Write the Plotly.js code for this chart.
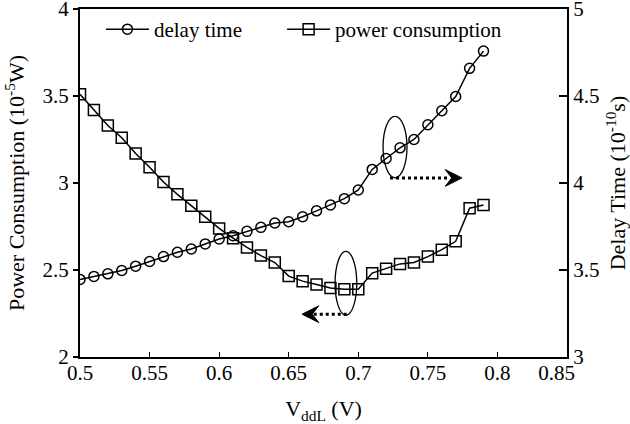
<!DOCTYPE html>
<html>
<head>
<meta charset="utf-8">
<script src="https://cdn.plot.ly/plotly-3.0.1.min.js"></script>
<style>html,body{margin:0;padding:0;background:#fff;}#chart{width:630px;height:424px;}</style>
</head>
<body>
<div id="chart"></div>
<script>
// VddL values (V)
const vddl = [0.50,0.51,0.52,0.53,0.54,0.55,0.56,0.57,0.58,0.59,
              0.60,0.61,0.62,0.63,0.64,0.65,0.66,0.67,0.68,0.69,
              0.70,0.71,0.72,0.73,0.74,0.75,0.76,0.77,0.78,0.79];
// Delay time (1e-10 s), right axis
const delayTime = [3.446,3.463,3.478,3.497,3.522,3.549,3.577,3.602,3.621,3.650,
                   3.678,3.697,3.722,3.745,3.770,3.777,3.806,3.840,3.874,3.910,
                   3.960,4.078,4.141,4.202,4.250,4.335,4.415,4.497,4.659,4.758];
// Power consumption (1e-5 W), left axis
const powerCons = [3.510,3.420,3.330,3.260,3.170,3.090,3.006,2.935,2.869,2.806,
                   2.739,2.683,2.630,2.583,2.543,2.465,2.436,2.417,2.396,2.390,
                   2.390,2.482,2.507,2.535,2.543,2.577,2.617,2.665,2.855,2.874];
const xTicks = [0.5,0.55,0.6,0.65,0.7,0.75,0.8,0.85];
const xTickText = ['0.5','0.55','0.6','0.65','0.7','0.75','0.8','0.85\u00a0\u00a0\u00a0\u00a0'];
const yTicks = [2,2.5,3,3.5,4];
const yTickText = ['2','2.5','3','3.5','4'];
const y2Ticks = [3,3.5,4,4.5,5];
const y2TickText = ['3','3.5','4','4.5','5'];

const FONT = 'Liberation Serif, Times New Roman, serif';

const traces = [
  {x: vddl, y: delayTime, yaxis: 'y2', name: 'delay time', type: 'scatter', mode: 'lines+markers',
   legend: 'legend',
   line: {color: '#000', width: 1.5},
   marker: {symbol: 'circle-open', size: 10, color: '#000', line: {width: 1.5, color: '#000'}}},
  {x: vddl, y: powerCons, yaxis: 'y', name: 'power consumption', type: 'scatter', mode: 'lines+markers',
   legend: 'legend2',
   line: {color: '#000', width: 1.5},
   marker: {symbol: 'square-open', size: 11, color: '#000', line: {width: 1.5, color: '#000'}}}
];

const shapes = [
  // ellipse around delay-time points
  {type: 'circle', xref: 'x', yref: 'y', x0: 0.7178, x1: 0.7350, y0: 3.030, y1: 3.383,
   line: {color: '#000', width: 1.3}},
  {type: 'line', xref: 'x', yref: 'y', x0: 0.7228, x1: 0.7660, y0: 3.029, y1: 3.029,
   line: {color: '#000', width: 3, dash: 'dot'}},
  {type: 'path', xref: 'x', yref: 'y', path: 'M 0.7745 3.029 L 0.7625 3.077 L 0.7672 3.029 L 0.7625 2.981 Z',
   fillcolor: '#000', line: {color: '#000', width: 1}},
  // ellipse around power points
  {type: 'circle', xref: 'x', yref: 'y', x0: 0.6833, x1: 0.6989, y0: 2.240, y1: 2.607,
   line: {color: '#000', width: 1.3}},
  {type: 'line', xref: 'x', yref: 'y', x0: 0.6917, x1: 0.6670, y0: 2.246, y1: 2.246,
   line: {color: '#000', width: 3, dash: 'dot'}},
  {type: 'path', xref: 'x', yref: 'y', path: 'M 0.6596 2.246 L 0.6716 2.294 L 0.6669 2.246 L 0.6716 2.198 Z',
   fillcolor: '#000', line: {color: '#000', width: 1}}
];

const legendCommon = {orientation: 'h', y: 1.0, xanchor: 'left', yanchor: 'top',
                      bgcolor: 'rgba(0,0,0,0)', font: {family: FONT, size: 21, color: '#000'},
                      itemwidth: 43};

const layout = {
  width: 630, height: 424,
  margin: {l: 80, r: 63, t: 9, b: 67},
  paper_bgcolor: '#fff', plot_bgcolor: '#fff',
  font: {family: FONT, size: 21, color: '#000'},
  showlegend: true,
  legend: Object.assign({}, legendCommon, {x: 0.043}),
  legend2: Object.assign({}, legendCommon, {x: 0.415}),
  xaxis: {range: [0.5, 0.85], tickvals: xTicks, ticktext: xTickText,
          ticks: 'inside', ticklen: 5, tickwidth: 1.2, tickcolor: '#000',
          showline: true, linecolor: '#000', linewidth: 2, mirror: true,
          showgrid: false, zeroline: false, ticklabelstandoff: -4,
          tickfont: {family: FONT, size: 21},
          title: {text: 'V<sub>ddL</sub> (V)', font: {family: FONT, size: 22}, standoff: 20}},
  yaxis: {range: [2, 4], tickvals: yTicks, ticktext: yTickText,
          ticks: 'outside', ticklen: 5, tickwidth: 1.2, tickcolor: '#000',
          showline: true, linecolor: '#000', linewidth: 2, ticklabeloverflow: 'allow',
          showgrid: false, zeroline: false,
          tickfont: {family: FONT, size: 21},
          title: {text: 'Power Consumption (10<sup>-5</sup>W)', font: {family: FONT, size: 22}, standoff: 12}},
  yaxis2: {range: [3, 5], tickvals: y2Ticks, ticktext: y2TickText, overlaying: 'y', side: 'right',
           ticks: 'inside', ticklen: 8, tickwidth: 1.2, tickcolor: '#000',
           showline: true, linecolor: '#000', linewidth: 2, ticklabeloverflow: 'allow',
           showgrid: false, zeroline: false,
           tickfont: {family: FONT, size: 21},
           title: {text: 'Delay Time (10<sup>-10</sup>s)', font: {family: FONT, size: 22}, standoff: 12}},
  shapes: shapes
};

Plotly.newPlot('chart', traces, layout, {displayModeBar: false, staticPlot: true});
</script>
</body>
</html>
